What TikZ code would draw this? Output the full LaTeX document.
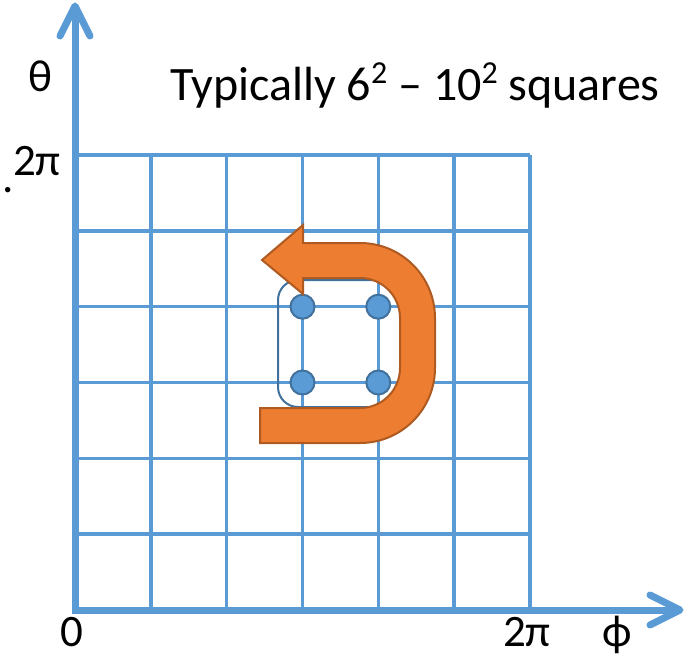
\documentclass[tikz,border=0pt]{standalone}
\usepackage{fontspec}
\setmainfont{Carlito}
\definecolor{axisblue}{HTML}{5B9BD5}
\definecolor{dotedge}{HTML}{41719C}
\definecolor{orangefill}{HTML}{ED7D31}
\definecolor{orangeedge}{HTML}{AE5A21}
\newcommand{\sqsup}[1]{\raisebox{0.36em}{\fontsize{32}{32}\selectfont #1}}
\tikzset{
  axisline/.style={draw=axisblue, line width=7pt},
  axishead/.style={draw=axisblue, line width=7pt, line cap=round, line join=round},
  gridline/.style={draw=axisblue, line width=3.5pt},
  gdot/.style={circle, fill=axisblue, draw=dotedge, line width=2pt, minimum size=24pt, inner sep=0pt},
  label/.style={inner sep=0pt, font=\fontsize{45}{54}\selectfont},
  uturn/.style={fill=orangefill, draw=orangeedge, line width=2pt, line join=miter},
}
\begin{document}
\begin{tikzpicture}[x=1pt,y=1pt]
\useasboundingbox (0,0) rectangle (686,-658);
% grid
\foreach \k in {1,...,6} {
  \draw[gridline] (75+\k*75.83,-155) -- (75+\k*75.83,-610);
  \draw[gridline] (75,-610+\k*75.83) -- (530,-610+\k*75.83);
}
% axes
\coordinate (O) at (75,-610);
\coordinate (ytip) at (75,-6);
\coordinate (xtip) at (680,-610);
\coordinate (yl) at (60,-36);
\coordinate (yr) at (90,-36);
\coordinate (xu) at (650,-595);
\coordinate (xd) at (650,-625);
\draw[axisline] (75,-613.5) -- (ytip);
\draw[axisline] (71.5,-610) -- (xtip);
\draw[axishead] (yl) -- (ytip) -- (yr);
\draw[axishead] (xu) -- (xtip) -- (xd);
% rounded rectangle around the dots
\draw[draw=dotedge, line width=2pt, rounded corners=20pt] (278,-280) rectangle (402,-407);
% dots
\node[gdot] (d1) at (302.5,-306.7) {};
\node[gdot] (d2) at (378.3,-306.7) {};
\node[gdot] (d3) at (302.5,-382.5) {};
\node[gdot] (d4) at (378.3,-382.5) {};
% U-turn arrow
\draw[uturn] (260,-408) -- (360,-408)
  arc[start angle=-90, end angle=0, radius=40pt] -- (400,-318)
  arc[start angle=0, end angle=90, radius=40pt] -- (303,-278)
  -- (303,-294) -- (262,-260) -- (303,-225) -- (303,-243) -- (360,-243)
  arc[start angle=90, end angle=0, radius=75pt] -- (435,-368)
  arc[start angle=0, end angle=-90, radius=75pt] -- (260,-443) -- cycle;
% labels
\node[label] (theta) at (40,-76) {θ};
\node[label, anchor=base, font=\fontsize{48}{56}\selectfont] (title) at (415,-101) {Typically 6\sqsup{2} -- 10\sqsup{2} squares};
\node[label, anchor=base] (ytop) at (37,-176) {2π};
\node[label, anchor=base] (dot) at (8,-193) {.};
\node[label, anchor=base] (zero) at (72,-646) {0};
\node[label, anchor=base] (xend) at (527,-646) {2π};
\node[label, anchor=base] (phi) at (617,-646) {ϕ};
\end{tikzpicture}
\end{document}
